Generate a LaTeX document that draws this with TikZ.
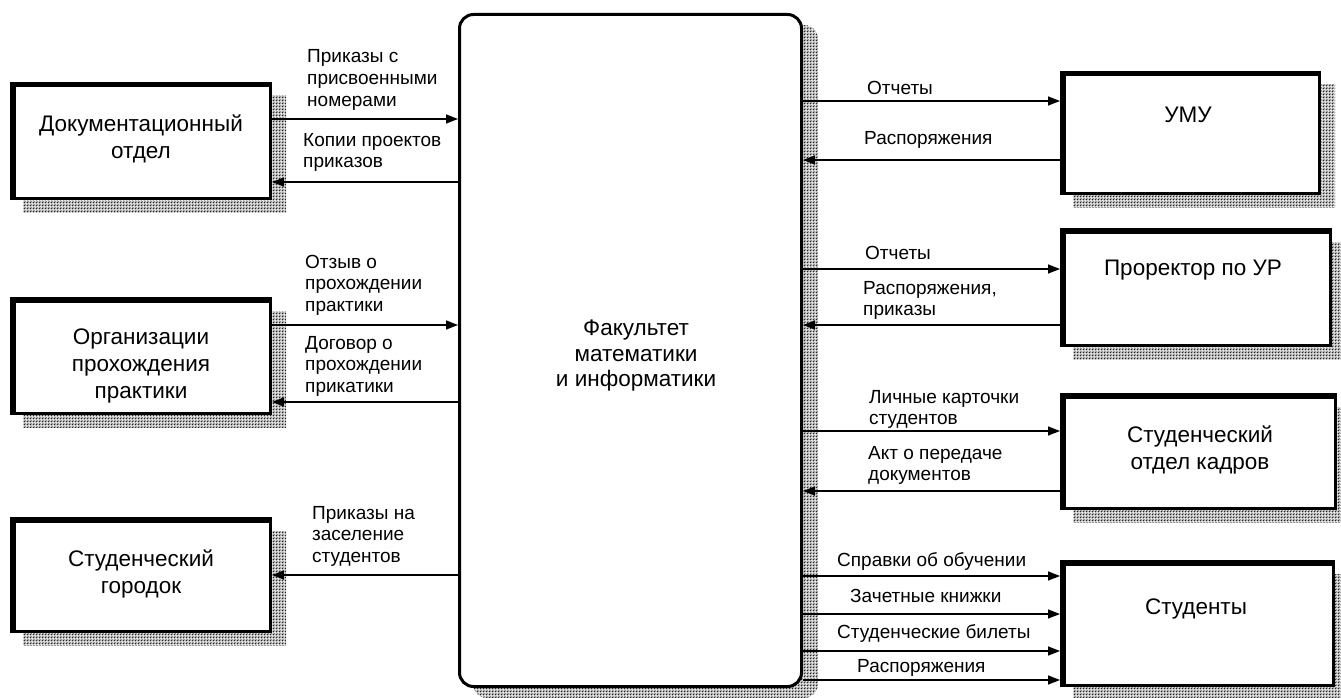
\documentclass[tikz,border=0pt]{standalone}
\usepackage{fontspec}
\setmainfont{Liberation Sans}
\usetikzlibrary{arrows.meta,patterns,patterns.meta,calc,backgrounds}

% fine dither used for drop shadows
\tikzdeclarepattern{
  name=dither,
  type=uncolored,
  bottom left={(0pt,0pt)},
  top right={(3pt,3pt)},
  tile size={(3pt,3pt)},
  code={
    \fill (0pt,0pt) rectangle (1pt,1pt);
    \fill (1pt,1pt) rectangle (2pt,2pt);
    \fill (2pt,2pt) rectangle (3pt,3pt);
    \fill (2pt,0pt) rectangle (3pt,1pt);
    \fill (0pt,2pt) rectangle (1pt,3pt);
  }
}

\tikzset{
  ent/.style={draw, fill=white, line width=3pt, inner sep=0pt, anchor=north west},
  entshadow/.style={pattern=dither, pattern color=black!85},
  flow/.style={line width=1.5pt, -{Triangle[length=12pt,width=9pt]}},
  % multi-line labels: the base anchor sits on the last line
  lbl/.style={font=\fontsize{19}{21.7}\selectfont, align=left, anchor=base west, inner sep=0pt},
  ttl/.style={font=\fontsize{22.5}{27}\selectfont, align=center, inner sep=0pt},
}

% heavier top and left edges of an entity box
\newcommand\boxedge[1]{%
  \draw[line width=2.5pt] ($(#1.south west)+(4.25,-3)$) -- ($(#1.north west)+(4.25,4.25)$) -- ($(#1.north east)+(-3,4.25)$);}
% hatched drop shadow of an entity box
\newcommand\boxshade[1]{%
  \fill[entshadow] ($(#1.north west)+(13,14)$) rectangle ($(#1.south east)+(14,12)$);}

\begin{document}
\begin{tikzpicture}[x=1pt,y=-1pt]
\useasboundingbox (0,0) rectangle (1341,698);

% central process
\node[ent, rounded corners=14pt, minimum width=342pt, minimum height=672pt] (fac) at (458,13) {};
\node[ttl, font=\fontsize{22.5}{25.5}\selectfont] (fac-t) at (636,356) {Факультет\\математики\\и информатики};

% external entities, left
\node[ent, minimum width=259pt, minimum height=115pt] (doc) at (10,82) {};
\node[ttl] (doc-t) at (141,138.5) {Документационный\\отдел};
\node[ent, minimum width=259pt, minimum height=115pt] (org) at (10,297) {};
\node[ttl] (org-t) at (141,365.5) {Организации\\прохождения\\практики};
\node[ent, minimum width=259pt, minimum height=113pt] (town) at (10,517) {};
\node[ttl] (town-t) at (141,574) {Студенческий\\городок};

% external entities, right
\node[ent, minimum width=258pt, minimum height=121pt] (umu) at (1060,71) {};
\node[ttl] (umu-t) at (1188,115) {УМУ};
\node[ent, minimum width=269pt, minimum height=116pt] (pro) at (1060,228) {};
\node[ttl] (pro-t) at (1193,270) {Проректор по УР};
\node[ent, minimum width=274pt, minimum height=114pt] (hr) at (1060,393) {};
\node[ttl] (hr-t) at (1200,450) {Студенческий\\отдел кадров};
\node[ent, minimum width=272pt, minimum height=124pt] (stu) at (1060,560) {};
\node[ttl] (stu-t) at (1196,609) {Студенты};

\foreach \b in {doc,org,town,umu,pro,hr,stu} {\boxedge{\b}}

\begin{scope}[on background layer]
  \fill[white] (0,0) rectangle (1341,698);
  \fill[entshadow, rounded corners=14pt] ($(fac.north west)+(15,12)$) rectangle ($(fac.south east)+(15,10)$);
  \foreach \b in {doc,org,town,umu,pro,hr,stu} {\boxshade{\b}}
\end{scope}

% flows, left side
\draw[flow] (doc.east |- 0,119) -- (fac.west |- 0,119);
\draw[flow] (fac.west |- 0,182) -- (doc.east |- 0,182);
\draw[flow] (org.east |- 0,325) -- (fac.west |- 0,325);
\draw[flow] (fac.west |- 0,402) -- (org.east |- 0,402);
\draw[flow] (fac.west |- 0,575) -- (town.east |- 0,575);

% flows, right side
\draw[flow] (fac.east |- 0,101) -- (umu.west |- 0,101);
\draw[flow] (umu.west |- 0,160) -- (fac.east |- 0,160);
\draw[flow] (fac.east |- 0,269) -- (pro.west |- 0,269);
\draw[flow] (pro.west |- 0,325) -- (fac.east |- 0,325);
\draw[flow] (fac.east |- 0,431) -- (hr.west |- 0,431);
\draw[flow] (hr.west |- 0,491) -- (fac.east |- 0,491);
\draw[flow] (fac.east |- 0,576) -- (stu.west |- 0,576);
\draw[flow] (fac.east |- 0,614) -- (stu.west |- 0,614);
\draw[flow] (fac.east |- 0,651) -- (stu.west |- 0,651);
\draw[flow] (fac.east |- 0,680) -- (stu.west |- 0,680);

% flow labels
\node[lbl] (l1) at (307,106.4) {Приказы с\\присвоенными\\номерами};
\node[lbl] (l2) at (303,167.7) {Копии проектов\\приказов};
\node[lbl] (l3) at (305,311.4) {Отзыв о\\прохождении\\практики};
\node[lbl] (l4) at (305,392.4) {Договор о\\прохождении\\прикатики};
\node[lbl] (l5) at (312,562.4) {Приказы на\\заселение\\студентов};

\node[lbl] (r1) at (867,95) {Отчеты};
\node[lbl] (r2) at (864,145) {Распоряжения};
\node[lbl] (r3) at (865,259) {Отчеты};
\node[lbl] (r4) at (863,315.7) {Распоряжения,\\приказы};
\node[lbl] (r5) at (869,424.7) {Личные карточки\\студентов};
\node[lbl] (r6) at (868,480.7) {Акт о передаче\\документов};
\node[lbl] (r7) at (837,566) {Справки об обучении};
\node[lbl] (r8) at (850,602) {Зачетные книжки};
\node[lbl] (r9) at (837,638) {Студенческие билеты};
\node[lbl] (r10) at (857,672) {Распоряжения};
\end{tikzpicture}
\end{document}
